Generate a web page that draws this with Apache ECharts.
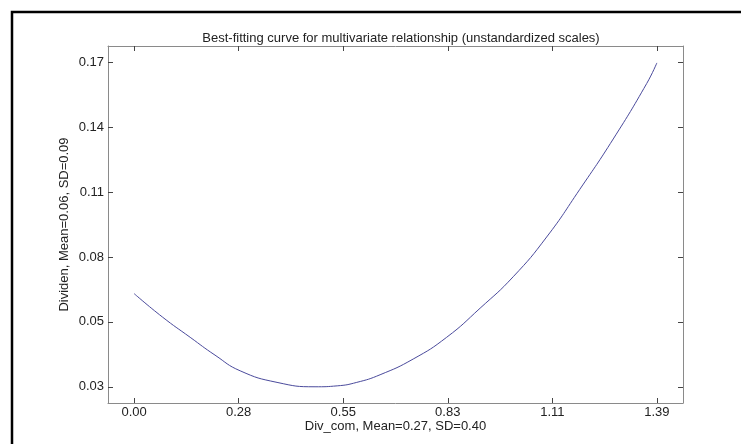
<!DOCTYPE html>
<html>
<head>
<meta charset="utf-8">
<script src="https://cdn.jsdelivr.net/npm/echarts@6/dist/echarts.min.js"></script>
<style>
  html, body { margin: 0; padding: 0; background: #fff; }
  #chart { width: 741px; height: 444px; }
</style>
</head>
<body>
<div id="chart"></div>
<script>
// curve readings (Div_com, Dividen)
var curveX = [0, 0.075, 0.149, 0.215, 0.282, 0.380, 0.481, 0.540, 0.592, 0.654, 0.742, 0.831, 0.920, 1.008, 1.097, 1.185, 1.274, 1.363, 1.39];
var curveY = [0.0703, 0.0602, 0.0514, 0.0437, 0.0369, 0.0319, 0.0300, 0.0304, 0.0319, 0.0352, 0.0420, 0.0514, 0.0640, 0.0776, 0.0948, 0.1154, 0.1372, 0.1612, 0.1701];

// tick positions and the labels printed at them
var xTicks = [0, 0.278, 0.556, 0.834, 1.112, 1.39];
var xTickLabels = ["0.00", "0.28", "0.55", "0.83", "1.11", "1.39"];
var yTicks = [0.03, 0.05808, 0.08616, 0.11424, 0.14232, 0.1704];
var yTickLabels = ["0.03", "0.05", "0.08", "0.11", "0.14", "0.17"];

var titleText = "Best-fitting curve for multivariate relationship (unstandardized scales)";
var xName = "Div_com, Mean=0.27, SD=0.40";
var yName = "Dividen, Mean=0.06, SD=0.09";

var xPad = (xTicks[5] - xTicks[0]) * 0.05;
var yPad = (yTicks[5] - yTicks[0]) * 0.05;

function labelFor(ticks, labels) {
  return function (v) {
    var best = 0;
    for (var i = 1; i < ticks.length; i++) {
      if (Math.abs(ticks[i] - v) < Math.abs(ticks[best] - v)) best = i;
    }
    return labels[best];
  };
}

var frameColor = "#8a8a8a";
var tickColor = "#444";
var font = "Liberation Sans, Arial, sans-serif";

function xAxisOf(pos, showLabels) {
  return {
    type: "value",
    position: pos,
    min: xTicks[0] - xPad,
    max: xTicks[5] + xPad,
    axisLine: { show: true, onZero: false, lineStyle: { color: frameColor, width: 1 } },
    axisTick: { show: true, inside: true, length: 5, customValues: xTicks, lineStyle: { color: tickColor } },
    axisLabel: {
      show: showLabels, customValues: xTicks, margin: 3,
      formatter: labelFor(xTicks, xTickLabels),
      color: "#222", fontSize: 13, fontFamily: font
    },
    splitLine: { show: false },
    name: showLabels ? xName : "",
    nameLocation: "middle",
    nameGap: 17,
    nameMoveOverlap: false,
    nameTextStyle: { color: "#222", fontSize: 13, fontFamily: font }
  };
}

function yAxisOf(pos, showLabels) {
  return {
    type: "value",
    position: pos,
    min: yTicks[0] - yPad,
    max: yTicks[5] + yPad,
    axisLine: { show: true, onZero: false, lineStyle: { color: frameColor, width: 1 } },
    axisTick: { show: true, inside: true, length: 5, customValues: yTicks, lineStyle: { color: tickColor } },
    axisLabel: {
      show: showLabels, customValues: yTicks, margin: 4,
      formatter: labelFor(yTicks, yTickLabels),
      color: "#222", fontSize: 13, fontFamily: font
    },
    splitLine: { show: false },
    name: showLabels ? yName : "",
    nameLocation: "middle",
    nameGap: 37,
    nameMoveOverlap: false,
    nameTextStyle: { color: "#222", fontSize: 13, fontFamily: font }
  };
}

var chart = echarts.init(document.getElementById("chart"), null, { renderer: "canvas" });

chart.setOption({
  backgroundColor: "#fff",
  animation: false,
  title: {
    text: titleText,
    left: 396, top: 27,
    textAlign: "center",
    textStyle: { color: "#222", fontSize: 13, fontWeight: "normal", fontFamily: font }
  },
  graphic: [{
    type: "rect",
    shape: { x: 12, y: 12, width: 780, height: 480 },
    style: { fill: null, stroke: "#000", lineWidth: 2.5 },
    silent: true
  }],
  grid: { left: 108, right: 58, top: 46, bottom: 41, containLabel: false },
  xAxis: [xAxisOf("bottom", true), xAxisOf("top", false)],
  yAxis: [yAxisOf("left", true), yAxisOf("right", false)],
  series: [{
    type: "line",
    data: curveX.map(function (x, i) { return [x, curveY[i]]; }),
    smooth: 0.5,
    symbol: "none",
    lineStyle: { color: "#4a4a9c", width: 1 }
  }]
});
</script>
</body>
</html>
